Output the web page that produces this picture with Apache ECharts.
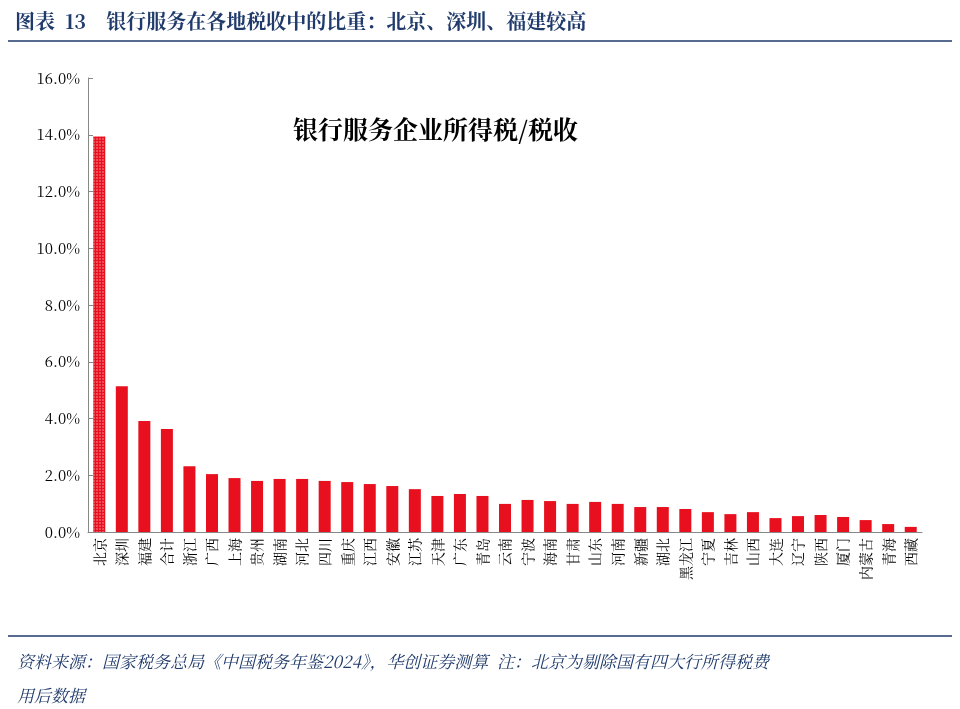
<!DOCTYPE html>
<html><head><meta charset="utf-8">
<script src="https://cdn.jsdelivr.net/npm/echarts@6/dist/echarts.min.js"></script>
<style>body{margin:0;background:#fff}#main{width:960px;height:709px}</style>
</head><body><div id="main"></div>
<script>
var regions = ['北京','深圳','福建','合计','浙江','广西','上海','贵州','湖南','河北','四川','重庆','江西','安徽','江苏','天津','广东','青岛','云南','宁波','海南','甘肃','山东','河南','新疆','湖北','黑龙江','宁夏','吉林','山西','大连','辽宁','陕西','厦门','内蒙古','青海','西藏'];
var shares = [13.94,5.14,3.91,3.63,2.32,2.04,1.90,1.80,1.87,1.87,1.80,1.76,1.69,1.62,1.51,1.27,1.34,1.27,0.99,1.13,1.09,0.99,1.06,0.99,0.88,0.88,0.81,0.70,0.63,0.70,0.49,0.56,0.60,0.53,0.42,0.28,0.18];

var myChart = echarts.init(document.getElementById('main'));
var serif = '"Noto Serif CJK SC","Times New Roman","Liberation Serif",serif';
var option = {
    animation: false,
    title: [
        { text: '图表  13    银行服务在各地税收中的比重：北京、深圳、福建较高', left: 10, top: 6,
          textStyle: { fontSize: 20, fontWeight: 'bold', color: '#1f3a6b', fontFamily: serif } },
        { text: '银行服务企业所得税/税收', left: 288, top: 112,
          textStyle: { fontSize: 25, fontWeight: 'bold', color: '#000', fontFamily: serif } },
        { text: '资料来源：国家税务总局《中国税务年鉴2024》，华创证券测算  注：北京为剔除国有四大行所得税费\n用后数据', left: 12, top: 640,
          textStyle: { fontSize: 17, fontStyle: 'italic', fontWeight: 'normal', color: '#1f3a6b', lineHeight: 34, fontFamily: serif } }
    ],
    graphic: [
        { type: 'line', shape: { x1: 8, y1: 41, x2: 952, y2: 41 }, style: { stroke: '#1f3a6b', lineWidth: 1.5 } },
        { type: 'line', shape: { x1: 8, y1: 636, x2: 952, y2: 636 }, style: { stroke: '#1f3a6b', lineWidth: 1.5 } }
    ],
    grid: { left: 88, right: 38, top: 78, bottom: 177 },
    xAxis: {
        type: 'category', data: regions,
        axisLine: { lineStyle: { color: '#888' } },
        axisTick: { show: false },
        axisLabel: { interval: 0, rotate: 90, fontSize: 14, color: '#000', fontFamily: serif, margin: 6 }
    },
    yAxis: {
        type: 'value', min: 0, max: 16, interval: 2,
        splitLine: { show: false },
        axisLine: { show: true, lineStyle: { color: '#888' } },
        axisTick: { show: true, inside: true, length: 5, lineStyle: { color: '#888' } },
        axisLabel: { formatter: function (v) { return v.toFixed(1) + '%'; }, fontSize: 15, color: '#000', fontFamily: serif }
    },
    series: [{
        type: 'bar', barWidth: 12,
        itemStyle: { color: '#e8101e' },
        data: shares.map(function (v, i) {
            if (i === 0) {
                return { value: v, itemStyle: { color: '#e8101e', decal: { symbol: 'rect', symbolSize: 0.5, color: '#fff', dashArrayX: [2, 1], dashArrayY: [2, 1] } } };
            }
            return v;
        })
    }]
};
myChart.setOption(option, true);
</script></body></html>
